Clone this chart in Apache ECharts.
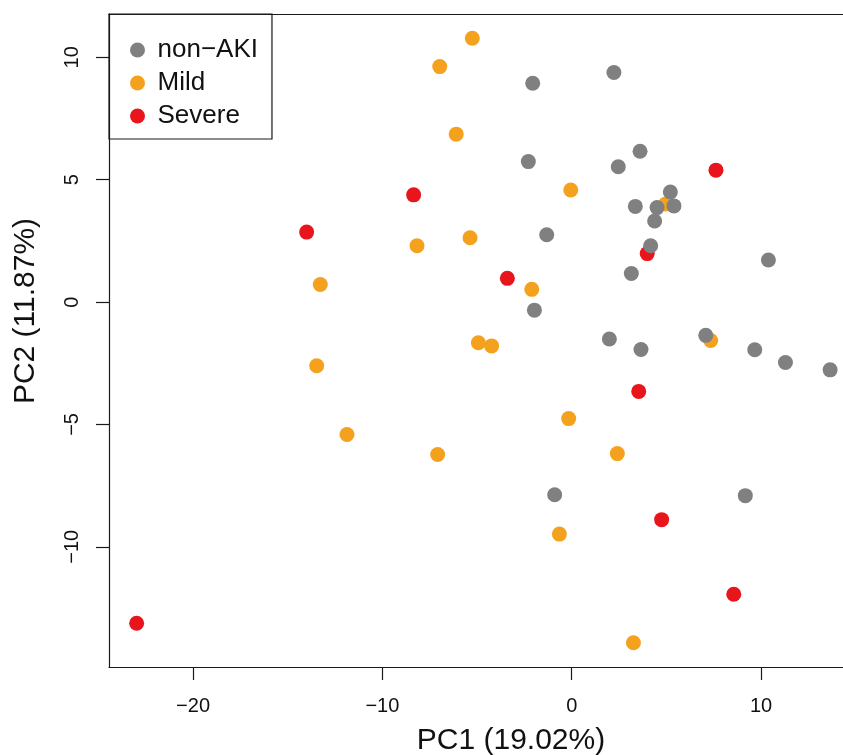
<!DOCTYPE html>
<html>
<head>
<meta charset="utf-8">
<title>PCA</title>
<script src="https://cdn.jsdelivr.net/npm/echarts@6/dist/echarts.min.js"></script>
<style>
  html, body { margin: 0; padding: 0; background: #fff; }
  #main { width: 843px; height: 755px; }
</style>
</head>
<body>
<div id="main"></div>
<script>
// PC1 / PC2 coordinates, one pair per sample
var nonAKI = [
    [-2.06, 8.94], [2.23, 9.38], [-2.29, 5.74], [3.61, 6.16], [2.46, 5.53],
    [5.21, 4.50], [3.36, 3.91], [4.51, 3.86], [5.40, 3.93], [4.38, 3.31],
    [-1.32, 2.75], [4.17, 2.30], [10.39, 1.72], [3.15, 1.17], [-1.97, -0.33],
    [1.99, -1.51], [3.66, -1.94], [7.08, -1.36], [9.67, -1.95], [11.29, -2.47],
    [13.65, -2.77], [-0.90, -7.87], [9.17, -7.91]
];
var mild = [
    [-5.25, 10.78], [-6.97, 9.62], [-6.10, 6.86], [-8.17, 2.30], [-5.37, 2.63],
    [-13.28, 0.72], [-0.05, 4.58], [4.97, 4.01], [-2.11, 0.52], [-4.93, -1.66],
    [-4.23, -1.79], [7.34, -1.57], [-0.16, -4.76], [2.41, -6.19], [-0.65, -9.48],
    [3.26, -13.92], [-13.47, -2.60], [-11.87, -5.41], [-7.08, -6.23]
];
var severe = [
    [-8.35, 4.38], [-14.0, 2.86], [7.62, 5.39], [3.99, 1.98], [-3.40, 0.97],
    [3.54, -3.65], [4.75, -8.89], [8.56, -11.94], [-22.98, -13.12]
];
var groupNames = ['non-AKI', 'Mild', 'Severe'];
var xTicks = [-20, -10, 0, 10];
var yTicks = [-10, -5, 0, 5, 10];

var FONT = '"Liberation Sans", Arial, Helvetica, sans-serif';
var LINE = { color: '#1a1a1a', width: 1.2 };

// R style minus sign on negative tick labels
function minusLabel(v) {
    return v < 0 ? '\u2212' + Math.abs(v) : String(v);
}

var chart = echarts.init(document.getElementById('main'));

var option = {
    backgroundColor: '#fff',
    animation: false,
    grid: {
        left: 109,
        top: 14,
        right: 0,
        bottom: 88,
        show: false
    },
    legend: {
        orient: 'vertical',
        left: 109,
        top: 14,
        padding: [23, 14, 10, 21],
        itemGap: 7,
        itemWidth: 30,
        itemHeight: 15,
        borderColor: '#1a1a1a',
        borderWidth: 1.2,
        icon: 'circle',
        data: groupNames,
        formatter: function(name) {
            return name.replace('-', '\u2212');
        },
        textStyle: {
            fontFamily: FONT,
            fontSize: 26,
            lineHeight: 26,
            color: '#111'
        }
    },
    // the plot frame is cut by the image edge on the right, so only
    // bottom, left and top sides are drawn
    xAxis: [{
        type: 'value',
        min: -24.44,
        max: 14.33,
        axisLine: { show: true, onZero: false, lineStyle: LINE },
        splitLine: { show: false },
        axisTick: {
            show: true,
            length: 13,
            customValues: xTicks,
            lineStyle: LINE
        },
        axisLabel: {
            customValues: xTicks,
            margin: 29,
            fontFamily: FONT,
            fontSize: 20,
            lineHeight: 20,
            color: '#111',
            formatter: minusLabel
        }
    }, {
        type: 'value',
        position: 'top',
        min: -24.44,
        max: 14.33,
        axisLine: { show: true, onZero: false, lineStyle: LINE },
        splitLine: { show: false },
        axisTick: { show: false },
        axisLabel: { show: false }
    }],
    yAxis: {
        type: 'value',
        min: -14.91,
        max: 11.77,
        axisLine: { show: true, onZero: false, lineStyle: LINE },
        splitLine: { show: false },
        axisTick: {
            show: true,
            length: 13,
            customValues: yTicks,
            lineStyle: LINE
        },
        axisLabel: {
            customValues: yTicks,
            rotate: 90,
            margin: 27,
            fontFamily: FONT,
            fontSize: 20,
            lineHeight: 20,
            color: '#111',
            formatter: minusLabel
        }
    },
    graphic: [{
        type: 'text',
        x: 511,
        y: 741,
        style: {
            text: 'PC1 (19.02%)',
            fontFamily: FONT,
            fontSize: 30,
            fill: '#111',
            align: 'center',
            verticalAlign: 'middle'
        }
    }, {
        type: 'text',
        x: 26,
        y: 311,
        rotation: Math.PI / 2,
        style: {
            text: 'PC2 (11.87%)',
            fontFamily: FONT,
            fontSize: 30,
            fill: '#111',
            align: 'center',
            verticalAlign: 'middle'
        }
    }],
    series: [{
        name: 'Mild',
        type: 'scatter',
        symbolSize: 15,
        itemStyle: { color: '#F4A21E', opacity: 1 },
        data: mild
    }, {
        name: 'Severe',
        type: 'scatter',
        symbolSize: 15,
        itemStyle: { color: '#E8151C', opacity: 1 },
        data: severe
    }, {
        name: 'non-AKI',
        type: 'scatter',
        symbolSize: 15,
        itemStyle: { color: '#808080', opacity: 1 },
        data: nonAKI
    }]
};

chart.setOption(option);
</script>
</body>
</html>
